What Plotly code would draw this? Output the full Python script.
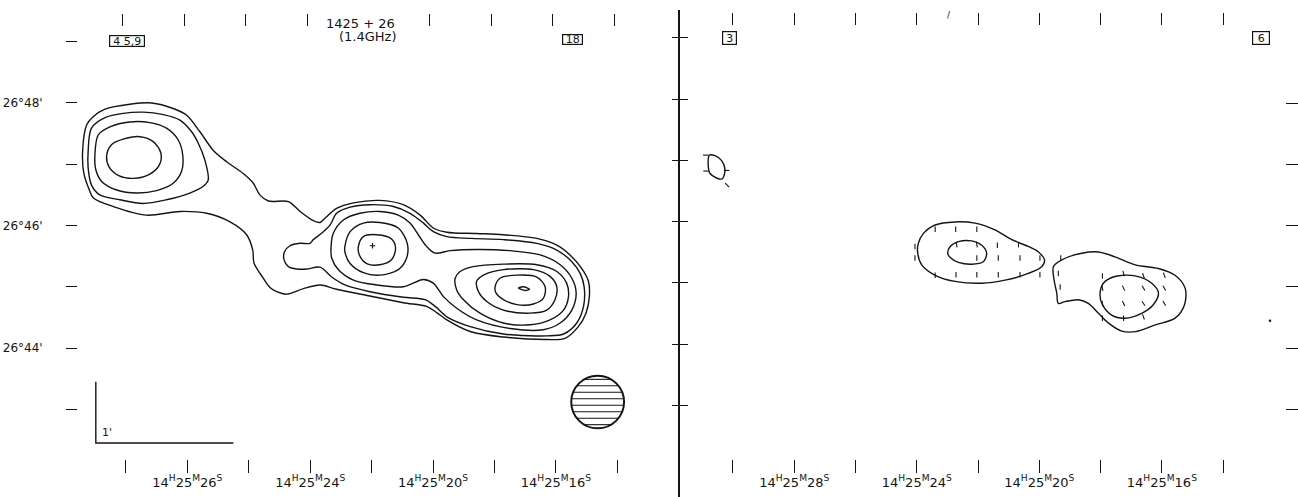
import math
import plotly.graph_objects as go

W, H = 1298, 497
FONT = "DejaVu Sans"
INK = "#141414"

# ---------------- axes values ----------------
ra_ticks = [30, 28, 26, 24, 22, 20, 18, 16, 14]          # RA seconds (14h25m..)
ra_top_ticks_left = [30, 28, 26, 24, 20, 18, 16, 14]     # 22 hidden by title
ra_label_pos = [28, 24, 20, 16]
ra_label_sec_left = ["26", "24", "20", "16"]
ra_label_sec_right = ["28", "24", "20", "16"]
dec_ticks = [43, 44, 45, 46, 47, 48, 49]                  # arcmin of 26 deg
dec_label_pos = [44, 46, 48]
dec_right_ticks = [43, 44, 45, 46, 47, 48]

# ---------------- left panel: total intensity contours (RA s, Dec arcmin) ----------------
L_c1 = [(31.28, 47.64), (31.06, 47.78), (30.68, 47.90), (29.87, 47.98), (29.16, 48.00),
        (28.46, 47.91), (28.02, 47.80), (27.59, 47.53), (27.16, 47.23), (26.72, 47.04),
        (26.18, 46.85), (25.85, 46.69), (25.64, 46.50), (25.36, 46.40), (24.71, 46.39),
        (24.33, 46.23), (23.90, 46.08), (23.68, 46.05), (23.52, 46.12), (23.14, 46.28),
        (22.59, 46.37), (21.73, 46.41), (20.97, 46.34), (20.42, 46.17), (19.99, 45.96),
        (19.55, 45.89), (18.58, 45.87), (17.71, 45.85), (16.62, 45.79), (15.97, 45.68),
        (15.54, 45.52), (15.16, 45.30), (14.94, 45.09), (14.91, 44.84), (15.02, 44.57),
        (15.27, 44.35), (15.70, 44.16), (16.30, 44.14), (17.71, 44.18), (18.79, 44.27),
        (19.55, 44.46), (19.88, 44.58), (20.21, 44.68), (20.97, 44.74), (22.05, 44.85),
        (23.14, 44.96), (23.68, 45.03), (24.22, 44.97), (24.77, 44.88), (25.09, 44.92),
        (25.31, 44.99), (25.54, 45.15), (25.83, 45.39), (25.87, 45.60), (26.07, 45.85),
        (26.61, 46.06), (27.37, 46.20), (28.24, 46.23), (29.33, 46.17), (30.41, 46.31),
        (31.06, 46.45), (31.19, 46.58), (31.37, 46.85), (31.41, 47.21)]
L_nw_c2 = [(31.23, 47.21), (31.12, 47.59), (30.68, 47.76), (30.09, 47.83), (29.44, 47.85),
           (28.78, 47.81), (28.24, 47.72), (27.86, 47.53), (27.64, 47.34), (27.43, 47.07),
           (27.32, 46.74), (27.48, 46.64), (27.92, 46.53), (28.68, 46.42), (29.44, 46.36),
           (30.20, 46.42), (30.85, 46.50), (31.12, 46.66), (31.23, 46.94)]
L_nw_c3 = [(31.01, 47.15), (30.90, 47.48), (30.52, 47.61), (29.87, 47.69), (29.22, 47.68),
           (28.68, 47.59), (28.30, 47.40), (28.15, 47.15), (28.19, 46.88), (28.46, 46.69),
           (29.00, 46.57), (29.65, 46.53), (30.30, 46.58), (30.79, 46.72), (30.98, 46.91)]
L_nw_c4 = [(30.63, 47.13), (30.47, 47.32), (30.09, 47.41), (29.54, 47.45), (29.11, 47.37),
           (28.86, 47.18), (28.91, 46.99), (29.22, 46.84), (29.76, 46.77), (30.25, 46.82),
           (30.54, 46.95)]
L_c2 = [(23.90, 45.77), (24.01, 45.71), (24.33, 45.71), (24.66, 45.67), (24.84, 45.57),
        (24.85, 45.44), (24.71, 45.33), (24.44, 45.29), (24.11, 45.29), (23.68, 45.32),
        (23.30, 45.16), (22.87, 45.03), (22.05, 44.92), (20.97, 44.83), (20.26, 44.79),
        (19.93, 44.68), (19.55, 44.51), (18.79, 44.35), (17.71, 44.23), (16.30, 44.20),
        (15.75, 44.23), (15.32, 44.41), (15.10, 44.68), (15.08, 45.00), (15.21, 45.22),
        (15.48, 45.41), (15.97, 45.60), (16.62, 45.71), (17.71, 45.77), (18.79, 45.79),
        (19.55, 45.82), (19.99, 45.90), (20.31, 46.04), (20.75, 46.20), (21.29, 46.31),
        (22.05, 46.34), (22.70, 46.30), (23.14, 46.20), (23.35, 46.01), (23.59, 45.89)]
L_c3 = [(23.32, 45.66), (23.25, 45.87), (22.92, 46.09), (22.38, 46.20), (21.73, 46.23),
        (21.13, 46.17), (20.75, 46.04), (20.48, 45.85), (20.21, 45.66), (19.93, 45.55),
        (19.45, 45.59), (18.58, 45.61), (17.49, 45.59), (16.51, 45.52), (15.86, 45.36),
        (15.48, 45.14), (15.34, 44.90), (15.48, 44.62), (15.86, 44.41), (16.41, 44.30),
        (17.49, 44.32), (18.58, 44.46), (19.23, 44.65), (19.66, 44.84), (19.99, 45.06),
        (20.31, 45.12), (20.97, 45.00), (21.83, 45.03), (22.59, 45.11), (23.08, 45.28),
        (23.30, 45.47)]
L_mid_c4 = [(22.87, 45.66), (22.70, 45.90), (22.27, 46.04), (21.73, 46.05), (21.13, 45.96),
            (20.84, 45.71), (20.86, 45.47), (21.13, 45.28), (21.73, 45.19), (22.27, 45.23),
            (22.70, 45.38), (22.87, 45.57)]
L_mid_c5 = [(22.43, 45.66), (22.27, 45.82), (21.83, 45.85), (21.35, 45.78), (21.22, 45.63),
            (21.35, 45.44), (21.73, 45.36), (22.16, 45.38), (22.40, 45.52)]
L_mid_peak = [(21.97, 45.67)]
L_se_c4 = [(19.28, 45.14), (19.12, 45.25), (18.69, 45.33), (17.71, 45.37), (16.62, 45.36),
           (15.97, 45.25), (15.65, 45.06), (15.59, 44.84), (15.75, 44.62), (16.19, 44.46),
           (16.84, 44.38), (17.71, 44.41), (18.47, 44.57), (19.01, 44.79), (19.23, 44.95)]
L_se_c5 = [(18.58, 45.09), (18.36, 45.19), (17.71, 45.28), (16.73, 45.28), (16.19, 45.17),
           (15.97, 45.00), (16.03, 44.79), (16.30, 44.62), (16.84, 44.57), (17.71, 44.62),
           (18.25, 44.76), (18.52, 44.92)]
L_se_c6 = [(17.98, 45.00), (17.82, 45.14), (17.27, 45.19), (16.62, 45.16), (16.35, 45.00),
           (16.41, 44.81), (16.73, 44.72), (17.27, 44.71), (17.71, 44.79), (17.95, 44.90)]
L_se_c7 = [(17.22, 44.98), (17.06, 45.00), (16.86, 44.96), (17.00, 44.94)]

# beam and 1' scale bar (left panel)
beam_center = (14.64, 43.12)      # RA s, Dec arcmin
beam_radius_ra = 0.86             # s
beam_radius_dec = 0.43            # arcmin
beam_hatch_offsets = [-0.37, -0.265, -0.16, -0.053, 0.053, 0.16, 0.265, 0.37]
bar_corner = (30.98, 42.45)
bar_len_dec = 1.0                 # arcmin
bar_len_ra = 4.48                 # s  (= 1 arcmin at dec 26.7)

# ---------------- right panel: polarised intensity contours + E-vectors ----------------
R_nw_c1 = [(30.77, 47.15), (30.59, 47.14), (30.37, 47.06), (30.26, 46.91), (30.34, 46.77),
           (30.45, 46.76), (30.75, 46.85), (30.81, 46.99)]
R_mid_c1 = [(23.95, 45.71), (23.79, 45.87), (23.40, 46.01), (22.75, 46.06), (22.10, 46.04),
            (21.45, 45.93), (20.90, 45.77), (20.36, 45.66), (20.03, 45.57), (19.83, 45.44),
            (19.92, 45.33), (20.36, 45.22), (21.12, 45.11), (21.88, 45.06), (22.75, 45.09),
            (23.40, 45.19), (23.84, 45.36), (23.97, 45.55)]
R_mid_c2 = [(22.99, 45.55), (22.91, 45.66), (22.64, 45.74), (22.21, 45.75), (21.88, 45.68),
            (21.72, 45.55), (21.83, 45.41), (22.21, 45.37), (22.64, 45.40), (22.91, 45.48)]
R_se_c1 = [(19.54, 45.33), (19.27, 45.44), (18.61, 45.55), (18.07, 45.57), (17.53, 45.49),
           (16.87, 45.36), (16.11, 45.30), (15.57, 45.19), (15.24, 44.98), (15.26, 44.71),
           (15.57, 44.49), (16.22, 44.38), (16.87, 44.27), (17.31, 44.28), (17.74, 44.41),
           (18.07, 44.57), (18.40, 44.73), (18.72, 44.79), (19.16, 44.76), (19.38, 44.73),
           (19.43, 44.90), (19.51, 45.09)]
R_se_c2 = [(18.02, 44.87), (17.91, 45.06), (17.53, 45.17), (16.87, 45.18), (16.33, 45.06),
           (16.11, 44.90), (16.28, 44.71), (16.66, 44.57), (17.20, 44.49), (17.64, 44.54),
           (17.94, 44.71)]
# E-vectors: RA s, Dec arcmin, position angle (deg, N through E)
vec_ra = [23.40, 22.73, 22.04, 24.06, 22.70, 22.04, 21.37, 20.68, 24.06, 22.04, 21.34, 20.63,
          19.98, 23.40, 22.72, 22.04, 21.34, 20.63, 19.98,
          19.30, 19.38, 19.32, 17.94, 17.25, 16.60, 15.92, 17.94, 17.25, 16.60, 15.92,
          17.94, 17.25, 16.60, 15.92, 17.94, 17.25, 16.60,
          30.89, 30.88, 30.21, 30.19]
vec_dec = [45.94, 45.94, 45.94, 45.66, 45.69, 45.69, 45.68, 45.69, 45.47, 45.47, 45.47, 45.47,
           45.47, 45.19, 45.20, 45.20, 45.20, 45.20, 45.20,
           45.47, 45.22, 45.00, 45.18, 45.22, 45.18, 45.19, 44.98, 44.98, 44.98, 44.98,
           44.73, 44.73, 44.73, 44.73, 44.49, 44.49, 44.51,
           47.15, 46.89, 46.90, 46.66]
vec_pa = [0, 0, 0, 0, 10, 10, 0, 0, 0, 0, 0, 0,
          0, 0, 0, 0, 0, 0, 0,
          0, 0, 0, 0, 15, 20, 20, 10, 25, 30, 30,
          10, 25, 35, 30, 0, 0, 20,
          90, 90, 90, 45]
stray_dot = [(12.47, 44.45)]

# ---------------- geometry ----------------
L_DOM = (78, 660)
R_DOM = (680, 1285)
L_XR = [31.56, 12.61]
L_YR = [42.19, 49.24]
R_XR = [31.73, 11.98]
R_YR = [41.573, 49.517]
CROSS_YR = [41.507, 49.452]
px_per_s_r = (R_DOM[1] - R_DOM[0]) / (R_XR[0] - R_XR[1])
px_per_arcmin_r = 487 / (R_YR[1] - R_YR[0])
VEC_LEN_PX = 5.5


def loop(pts):
    xs = [p[0] for p in pts] + [pts[0][0]]
    ys = [p[1] for p in pts] + [pts[0][1]]
    return xs, ys


fig = go.Figure()
line_style = dict(color=INK, width=1.4, shape="spline", smoothing=0.9)

for c in [L_c1, L_nw_c2, L_nw_c3, L_nw_c4, L_c2, L_c3, L_mid_c4, L_mid_c5,
          L_se_c4, L_se_c5, L_se_c6, L_se_c7]:
    xs, ys = loop(c)
    fig.add_trace(go.Scatter(x=xs, y=ys, mode="lines", line=line_style,
                             xaxis="x", yaxis="y", hoverinfo="skip", showlegend=False))

fig.add_trace(go.Scatter(x=[p[0] for p in L_mid_peak], y=[p[1] for p in L_mid_peak],
                         mode="markers", marker=dict(symbol="cross-thin", size=4,
                                                     line=dict(color=INK, width=1.2)),
                         xaxis="x", yaxis="y", hoverinfo="skip", showlegend=False))

# scale bar
bx, by = bar_corner
fig.add_trace(go.Scatter(x=[bx, bx, bx - bar_len_ra], y=[by + bar_len_dec, by, by],
                         mode="lines", line=dict(color=INK, width=1.4),
                         xaxis="x", yaxis="y", hoverinfo="skip", showlegend=False))

# beam hatching
hx, hy = [], []
for off in beam_hatch_offsets:
    half = beam_radius_ra * math.sqrt(max(0.0, 1 - (off / beam_radius_dec) ** 2))
    hx += [beam_center[0] - half, beam_center[0] + half, None]
    hy += [beam_center[1] + off, beam_center[1] + off, None]
fig.add_trace(go.Scatter(x=hx, y=hy, mode="lines", line=dict(color=INK, width=1.1),
                         xaxis="x", yaxis="y", hoverinfo="skip", showlegend=False))
fig.add_shape(type="circle", xref="x", yref="y",
              x0=beam_center[0] - beam_radius_ra, x1=beam_center[0] + beam_radius_ra,
              y0=beam_center[1] - beam_radius_dec, y1=beam_center[1] + beam_radius_dec,
              line=dict(color=INK, width=2))

# right panel contours
for c in [R_nw_c1, R_mid_c1, R_mid_c2, R_se_c1, R_se_c2]:
    xs, ys = loop(c)
    fig.add_trace(go.Scatter(x=xs, y=ys, mode="lines", line=line_style,
                             xaxis="x3", yaxis="y3", hoverinfo="skip", showlegend=False))

vx, vy = [], []
for s, d, pa in zip(vec_ra, vec_dec, vec_pa):
    a = math.radians(pa)
    ds = (VEC_LEN_PX / 2) * math.sin(a) / px_per_s_r
    dd = (VEC_LEN_PX / 2) * math.cos(a) / px_per_arcmin_r
    vx += [s + ds, s - ds, None]
    vy += [d + dd, d - dd, None]
fig.add_trace(go.Scatter(x=vx, y=vy, mode="lines", line=dict(color=INK, width=1.1),
                         xaxis="x3", yaxis="y3", hoverinfo="skip", showlegend=False))
fig.add_trace(go.Scatter(x=[p[0] for p in stray_dot], y=[p[1] for p in stray_dot],
                         mode="markers", marker=dict(size=2.5, color=INK),
                         xaxis="x3", yaxis="y3", hoverinfo="skip", showlegend=False))

# empty traces so overlay axes are drawn
for xa, ya in [("x2", "y"), ("x5", "y"), ("x", "y7"), ("x4", "y3"), ("x6", "y3"),
               ("x3", "y4"), ("x3", "y5"), ("x3", "y6")]:
    fig.add_trace(go.Scatter(x=[], y=[], xaxis=xa, yaxis=ya, showlegend=False))


def ra_text(sec):
    return "14<sup>H</sup>25<sup>M</sup>" + sec + "<sup>S</sup>"


dec_labels = ["26°%d'" % v for v in dec_label_pos]

tickfont = dict(family=FONT, size=12, color=INK)
rafont = dict(family=FONT, size=13, color=INK)
common = dict(showgrid=False, zeroline=False, showline=False, tickcolor=INK,
              tickwidth=1.2, fixedrange=True)

fig.update_layout(
    width=W, height=H, autosize=False,
    margin=dict(l=0, r=0, t=0, b=0, pad=0),
    paper_bgcolor="white", plot_bgcolor="white",
    showlegend=False,
    # ----- left panel -----
    xaxis=dict(domain=[L_DOM[0] / W, L_DOM[1] / W], range=L_XR, anchor="y",
               tickmode="array", tickvals=ra_ticks, ticks="outside", ticklen=13,
               showticklabels=False, **common),
    xaxis5=dict(overlaying="x", side="bottom", anchor="y", range=L_XR,
                tickmode="array", tickvals=ra_label_pos,
                ticktext=[ra_text(s) for s in ra_label_sec_left],
                ticks="outside", ticklen=13, tickfont=rafont, ticklabelstandoff=-2, **common),
    xaxis2=dict(overlaying="x", side="top", anchor="y", range=[L_XR[0] - 0.1, L_XR[1] - 0.1],
                tickmode="array", tickvals=ra_top_ticks_left, ticks="outside", ticklen=12,
                showticklabels=False, **common),
    yaxis=dict(domain=[38 / H, 470 / H], range=L_YR, anchor="x",
               tickmode="array", tickvals=dec_ticks, ticks="outside", ticklen=11,
               showticklabels=False, **common),
    yaxis7=dict(overlaying="y", side="left", anchor="x", range=L_YR,
                tickmode="array", tickvals=dec_label_pos, ticktext=dec_labels,
                ticks="outside", ticklen=11, tickfont=tickfont, ticklabelstandoff=21, **common),
    # ----- right panel -----
    xaxis3=dict(domain=[R_DOM[0] / W, R_DOM[1] / W], range=R_XR, anchor="free",
                position=38 / H, tickmode="array", tickvals=ra_ticks, ticks="outside",
                ticklen=13, showticklabels=False, **common),
    xaxis6=dict(overlaying="x3", side="bottom", anchor="free", position=38 / H, range=R_XR,
                tickmode="array", tickvals=ra_label_pos,
                ticktext=[ra_text(s) for s in ra_label_sec_right],
                ticks="outside", ticklen=13, tickfont=rafont, ticklabelstandoff=-2, **common),
    xaxis4=dict(overlaying="x3", side="top", anchor="free", position=(H - 25) / H,
                range=R_XR, tickmode="array", tickvals=ra_ticks, ticks="outside",
                ticklen=12, showticklabels=False, **common),
    yaxis3=dict(domain=[0, (H - 10) / H], range=R_YR, anchor="x3", showline=True,
                linecolor=INK, linewidth=1.5, ticks="", showticklabels=False,
                showgrid=False, zeroline=False, fixedrange=True),
    yaxis4=dict(overlaying="y3", anchor="x3", side="left", range=CROSS_YR,
                tickmode="array", tickvals=dec_ticks, ticks="outside", ticklen=7,
                showticklabels=False, **common),
    yaxis5=dict(overlaying="y3", anchor="x3", side="left", range=CROSS_YR,
                tickmode="array", tickvals=dec_ticks, ticks="inside", ticklen=8,
                showticklabels=False, **common),
    yaxis6=dict(overlaying="y3", anchor="x3", side="right", range=R_YR,
                tickmode="array", tickvals=dec_right_ticks, ticks="outside", ticklen=13,
                showticklabels=False, **common),
)


def px(x):
    return x / W


def py(y):
    return 1 - y / H


def box(text, cx, cy, w, h, size=11):
    fig.add_annotation(text=text, xref="paper", yref="paper", x=px(cx), y=py(cy),
                       xanchor="center", yanchor="middle", showarrow=False,
                       width=w, height=h, bordercolor=INK, borderwidth=1.2, borderpad=0,
                       font=dict(family=FONT, size=size, color=INK))


def label(text, cx, cy, size=12, xanchor="center"):
    fig.add_annotation(text=text, xref="paper", yref="paper", x=px(cx), y=py(cy),
                       xanchor=xanchor, yanchor="middle", showarrow=False,
                       font=dict(family=FONT, size=size, color=INK))


box("4 5,9", 127, 41, 34, 10, 11)
box("18", 572.5, 39.5, 19, 9, 11)
box("3", 729.5, 38, 13, 12, 11)
box("6", 1261, 38, 16, 12, 11)
label("1425 + 26", 360.5, 24, 13)
label("(1.4GHz)", 367.5, 36.5, 13)
label("/", 949, 15, 9)
fig.add_annotation(text="1'", xref="x", yref="y", x=30.85, y=42.62, xanchor="left",
                   yanchor="middle", showarrow=False, font=dict(family=FONT, size=11, color=INK))

fig.write_html("out.html")
